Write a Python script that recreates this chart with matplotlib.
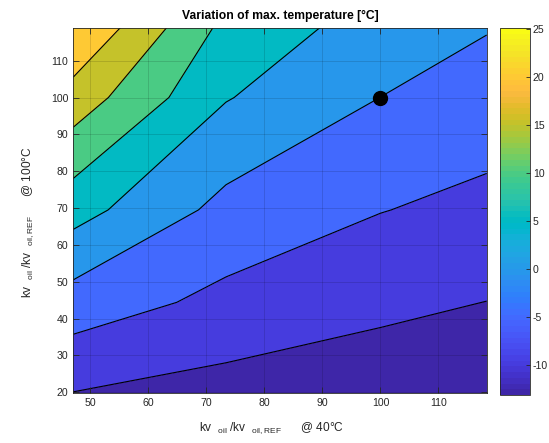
import numpy as np
import matplotlib
matplotlib.use("Agg")
import matplotlib.pyplot as plt
from matplotlib.colors import ListedColormap, Normalize
from matplotlib.cm import ScalarMappable

plt.rcParams['font.family'] = ['Liberation Sans', 'DejaVu Sans']
plt.rcParams['mathtext.fontset'] = 'custom'
plt.rcParams['mathtext.rm'] = 'Liberation Sans'
plt.rcParams['axes.unicode_minus'] = False

# MATLAB parula(64)
parula = [
    [0.2422, 0.1504, 0.6603], [0.2504, 0.1650, 0.7076], [0.2578, 0.1818, 0.7511], [0.2647, 0.1978, 0.7952],
    [0.2706, 0.2147, 0.8364], [0.2751, 0.2342, 0.8710], [0.2783, 0.2559, 0.8991], [0.2803, 0.2782, 0.9221],
    [0.2813, 0.3006, 0.9414], [0.2810, 0.3228, 0.9579], [0.2795, 0.3447, 0.9717], [0.2760, 0.3667, 0.9829],
    [0.2699, 0.3892, 0.9906], [0.2602, 0.4123, 0.9952], [0.2440, 0.4358, 0.9988], [0.2206, 0.4603, 0.9973],
    [0.1963, 0.4847, 0.9892], [0.1834, 0.5074, 0.9798], [0.1786, 0.5289, 0.9682], [0.1764, 0.5499, 0.9520],
    [0.1687, 0.5703, 0.9359], [0.1540, 0.5902, 0.9218], [0.1460, 0.6091, 0.9079], [0.1380, 0.6276, 0.8973],
    [0.1248, 0.6459, 0.8883], [0.1113, 0.6635, 0.8763], [0.0952, 0.6798, 0.8598], [0.0689, 0.6948, 0.8394],
    [0.0297, 0.7082, 0.8163], [0.0036, 0.7203, 0.7917], [0.0067, 0.7312, 0.7660], [0.0433, 0.7411, 0.7394],
    [0.0964, 0.7500, 0.7120], [0.1408, 0.7584, 0.6842], [0.1717, 0.7670, 0.6554], [0.1938, 0.7758, 0.6251],
    [0.2161, 0.7843, 0.5923], [0.2470, 0.7918, 0.5567], [0.2906, 0.7973, 0.5188], [0.3406, 0.8008, 0.4789],
    [0.3909, 0.8029, 0.4354], [0.4456, 0.8024, 0.3909], [0.5044, 0.7993, 0.3480], [0.5616, 0.7942, 0.3045],
    [0.6174, 0.7876, 0.2612], [0.6720, 0.7793, 0.2227], [0.7242, 0.7698, 0.1910], [0.7738, 0.7598, 0.1646],
    [0.8203, 0.7498, 0.1535], [0.8634, 0.7406, 0.1596], [0.9035, 0.7330, 0.1774], [0.9393, 0.7288, 0.2100],
    [0.9728, 0.7298, 0.2394], [0.9956, 0.7434, 0.2371], [0.9970, 0.7659, 0.2199], [0.9952, 0.7893, 0.2028],
    [0.9892, 0.8136, 0.1885], [0.9786, 0.8386, 0.1766], [0.9676, 0.8639, 0.1643], [0.9610, 0.8890, 0.1537],
    [0.9597, 0.9135, 0.1423], [0.9628, 0.9373, 0.1265], [0.9691, 0.9606, 0.1064], [0.9769, 0.9839, 0.0805],
]
cmap = ListedColormap(parula)

# grid of the variation study
kv40 = [47.1, 73.4, 100.0, 118.3]
kv100 = [19.8, 44.4, 69.5, 100.0, 119.0]
# max. temperature variation [°C], rows = kv100, cols = kv40
dT = [
    [-10.1, -11.84, -12.6, -13.1],
    [-2.23, -6.32, -9.0, -10.05],
    [6.93, -1.52, -4.85, -6.32],
    [17.9, 5.28, -0.02, -2.25],
    [25.1, 8.6, 2.69, 0.27],
]
ref_point = (100, 100)
contour_levels = [-10, -5, 0, 5, 10, 15, 20]

Z = np.array(dT)
zmin, zmax = Z.min(), Z.max()
norm = Normalize(vmin=zmin, vmax=zmax)
levels = [zmin] + contour_levels + [zmax]
fill_colors = [cmap(norm(l)) for l in levels[:-1]]

fig = plt.figure(figsize=(5.49, 4.43), dpi=100)
ax = fig.add_axes([0.1335, 0.1129, 0.753, 0.825])

ax.contourf(kv40, kv100, Z, levels=levels, colors=fill_colors)
ax.contour(kv40, kv100, Z, levels=contour_levels, colors='k', linewidths=0.8, linestyles='solid')
ax.plot(ref_point[0], ref_point[1], 'o', color='k', markersize=10)

ax.set_xlim(kv40[0], kv40[-1])
ax.set_ylim(kv100[0], kv100[-1])
ax.set_xticks(range(50, 120, 10))
ax.set_yticks(range(20, 120, 10))
ax.grid(True, color='k', alpha=0.15, linewidth=0.6)
ax.set_axisbelow(False)
ax.tick_params(direction='in', top=True, right=True, labelsize=7.6,
               colors='0.15', length=4, width=0.6)
for s in ax.spines.values():
    s.set_color('0.15')
    s.set_linewidth(0.6)

ax.set_title('Variation of max. temperature [°C]', fontsize=8.7, fontweight='bold', pad=6)
ax.set_xlabel(r'kv  $_{\mathregular{oil}}$ /kv  $_{\mathregular{oil,REF}}$      @ 40°C',
              fontsize=8.6, color='0.15', labelpad=9)
ax.set_ylabel(r'kv  $_{\mathregular{oil}}$ /kv  $_{\mathregular{oil,REF}}$      @ 100°C',
              fontsize=8.6, color='0.15', labelpad=11)
ax.xaxis.label.set_x(0.48)
ax.yaxis.label.set_y(0.467)

cax = fig.add_axes([0.9107, 0.1084, 0.0546, 0.8284])
cb = fig.colorbar(ScalarMappable(norm=norm, cmap=cmap), cax=cax)
cb.set_ticks(range(-10, 30, 5))
cb.ax.tick_params(direction='in', labelsize=7.6, colors='0.15', length=3, width=0.6, pad=2)
cb.outline.set_edgecolor('0.15')
cb.outline.set_linewidth(0.6)

fig.savefig('out.png', dpi=100)
